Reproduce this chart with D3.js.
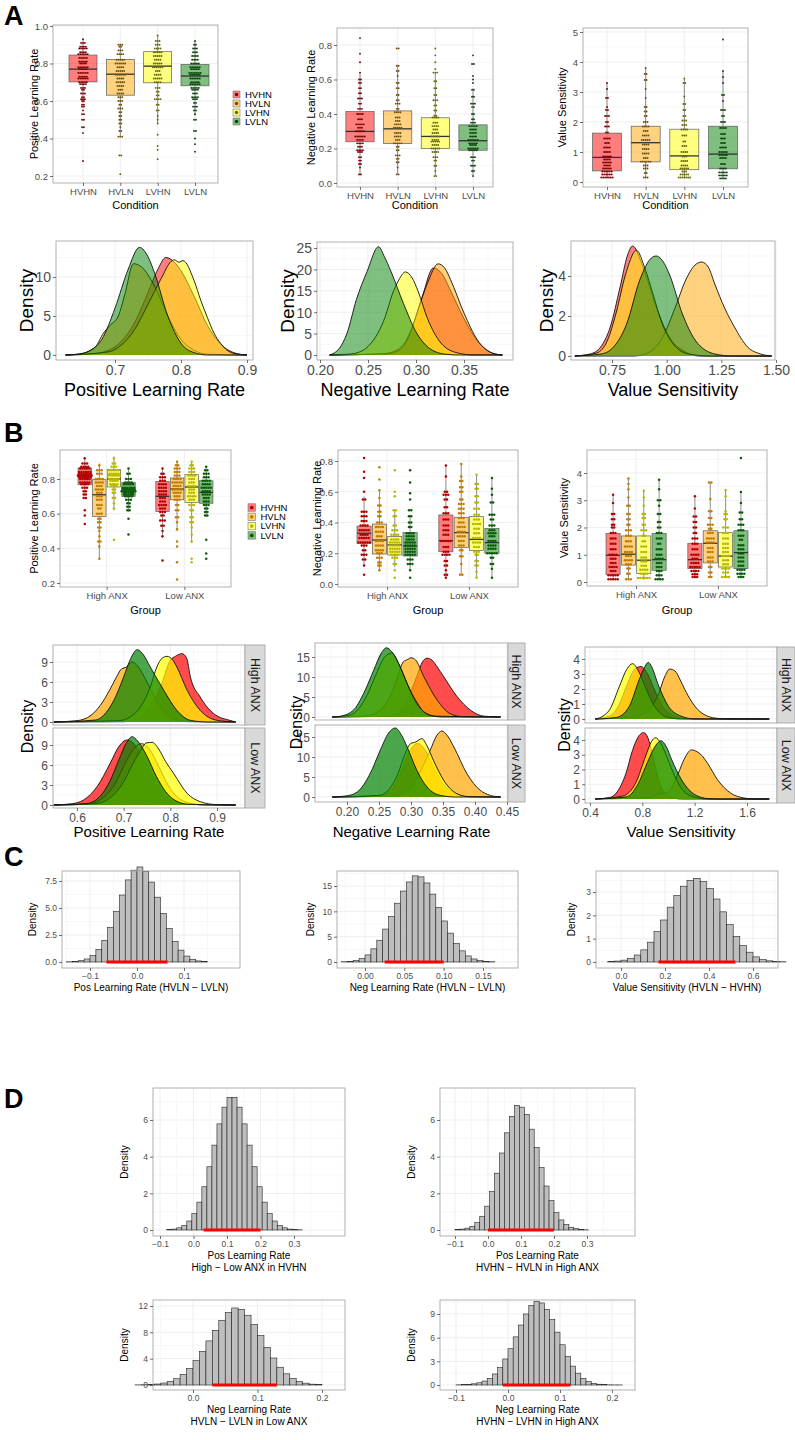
<!DOCTYPE html>
<html>
<head>
<meta charset="utf-8">
<script src="https://d3js.org/d3.v7.min.js"></script>
<style>
  body { margin: 0; background: #fff; }
</style>
</head>
<body>
<svg id="fig"></svg>
<script>
// ---------------- data ----------------
const conds = ["HVHN", "HVLN", "LVHN", "LVLN"];
const groups = ["High ANX", "Low ANX"];

// box stats: [low whisker, q1, median, q3, high whisker]
const posBoxA = [[0.59,0.702,0.77,0.845,0.93],[0.41,0.631,0.743,0.822,0.90],[0.48,0.697,0.786,0.863,0.95],[0.52,0.681,0.733,0.795,0.92]];
const negBoxA = [[0.05,0.239,0.299,0.414,0.64],[0.05,0.229,0.314,0.418,0.68],[0.04,0.20,0.27,0.378,0.64],[0.04,0.19,0.245,0.337,0.55]];
const valBoxA = [[0.15,0.37,0.82,1.63,3.3],[0.15,0.67,1.31,1.86,3.8],[0.15,0.41,0.87,1.76,3.45],[0.12,0.44,0.93,1.86,3.7]];

// dot rows: [value, count]
const posDotsA = [
  [[0.93,1],[0.91,3],[0.89,4],[0.88,5],[0.86,4],[0.85,6],[0.83,5],[0.81,5],[0.80,4],[0.78,6],[0.77,5],[0.75,6],[0.73,5],[0.72,6],[0.70,5],[0.69,4],[0.67,3],[0.66,2],[0.64,3],[0.62,2],[0.61,3],[0.60,2],[0.58,2],[0.57,2],[0.55,1],[0.53,2],[0.50,2],[0.46,2],[0.43,1],[0.28,1]],
  [[0.90,3],[0.89,2],[0.87,3],[0.85,4],[0.82,5],[0.80,6],[0.78,4],[0.76,5],[0.74,6],[0.72,4],[0.70,5],[0.68,4],[0.66,3],[0.64,4],[0.62,3],[0.60,3],[0.58,2],[0.56,3],[0.54,2],[0.52,2],[0.50,2],[0.48,2],[0.46,1],[0.44,2],[0.41,3],[0.31,2],[0.21,1]],
  [[0.95,1],[0.92,3],[0.90,3],[0.88,4],[0.86,5],[0.84,5],[0.82,4],[0.80,5],[0.78,6],[0.76,3],[0.74,4],[0.72,5],[0.70,4],[0.67,3],[0.65,2],[0.63,2],[0.61,4],[0.58,2],[0.55,2],[0.52,1],[0.50,1],[0.48,1],[0.42,1],[0.36,1],[0.34,1],[0.29,1]],
  [[0.92,1],[0.90,2],[0.88,3],[0.86,3],[0.84,4],[0.82,4],[0.80,5],[0.78,6],[0.77,5],[0.75,7],[0.74,6],[0.72,6],[0.70,5],[0.69,6],[0.67,5],[0.66,4],[0.64,3],[0.62,4],[0.61,3],[0.59,2],[0.57,3],[0.55,2],[0.53,1],[0.50,2],[0.44,2],[0.40,1],[0.37,1],[0.33,1]]
];
const negDotsA = [
  [[0.84,1],[0.75,1],[0.70,1],[0.64,1],[0.60,2],[0.58,2],[0.55,2],[0.52,2],[0.49,3],[0.46,2],[0.43,3],[0.40,4],[0.37,3],[0.34,5],[0.32,3],[0.30,5],[0.27,6],[0.25,4],[0.23,4],[0.21,3],[0.19,4],[0.18,3],[0.15,2],[0.13,2],[0.11,2],[0.09,1],[0.05,2]],
  [[0.78,2],[0.68,2],[0.65,2],[0.62,1],[0.58,2],[0.55,2],[0.51,2],[0.48,2],[0.46,3],[0.43,2],[0.41,4],[0.38,3],[0.36,3],[0.34,4],[0.32,5],[0.29,4],[0.27,4],[0.25,3],[0.23,5],[0.21,2],[0.19,2],[0.16,3],[0.14,2],[0.12,2],[0.09,1],[0.05,2]],
  [[0.78,1],[0.74,1],[0.70,1],[0.66,1],[0.64,3],[0.59,2],[0.55,2],[0.51,2],[0.48,3],[0.45,2],[0.42,2],[0.39,2],[0.38,4],[0.35,3],[0.33,4],[0.31,3],[0.29,4],[0.27,5],[0.25,4],[0.24,5],[0.22,4],[0.20,5],[0.18,4],[0.15,3],[0.13,2],[0.10,2],[0.07,1],[0.04,2]],
  [[0.74,1],[0.69,2],[0.62,1],[0.60,1],[0.58,1],[0.54,2],[0.50,2],[0.46,3],[0.44,2],[0.40,2],[0.37,2],[0.35,3],[0.33,5],[0.31,4],[0.29,4],[0.27,4],[0.25,6],[0.23,5],[0.22,4],[0.20,6],[0.19,5],[0.15,3],[0.13,2],[0.10,3],[0.07,2],[0.04,1]]
];
const valDotsA = [
  [[3.3,1],[3.1,1],[2.8,2],[2.5,1],[2.4,2],[2.2,3],[2.0,2],[1.85,3],[1.65,2],[1.45,4],[1.3,3],[1.15,4],[1.0,4],[0.85,5],[0.75,4],[0.65,5],[0.55,4],[0.45,5],[0.35,6],[0.25,6],[0.15,7]],
  [[3.8,1],[3.6,2],[3.4,2],[3.1,1],[2.8,1],[2.5,2],[2.35,2],[2.2,2],[2.0,3],[1.85,4],[1.7,3],[1.55,4],[1.4,5],[1.25,4],[1.1,4],[0.95,4],[0.8,3],[0.68,6],[0.55,3],[0.45,3],[0.3,2],[0.15,3]],
  [[3.45,1],[3.3,2],[2.85,1],[2.6,2],[2.4,2],[2.2,2],[2.05,3],[1.9,3],[1.75,4],[1.55,3],[1.35,2],[1.2,3],[1.0,4],[0.85,3],[0.7,4],[0.55,4],[0.45,5],[0.35,3],[0.25,5],[0.15,7]],
  [[4.75,1],[3.7,1],[3.5,1],[3.3,1],[2.9,2],[2.7,1],[2.4,3],[2.2,2],[2.0,3],[1.8,4],[1.6,3],[1.45,3],[1.3,3],[1.15,4],[1.0,5],[0.9,5],[0.8,4],[0.6,3],[0.45,4],[0.32,5],[0.22,5],[0.12,4]]
];

// panel B boxes: first four High ANX, last four Low ANX
const posBoxB = [[0.70,0.767,0.82,0.864,0.92],[0.34,0.584,0.709,0.796,0.89],[0.62,0.754,0.80,0.854,0.93],[0.61,0.70,0.742,0.78,0.86],
                 [0.46,0.613,0.70,0.786,0.86],[0.50,0.68,0.742,0.806,0.90],[0.43,0.665,0.754,0.825,0.90],[0.58,0.66,0.723,0.79,0.87]];
const negBoxB = [[0.11,0.265,0.33,0.377,0.57],[0.09,0.195,0.286,0.39,0.61],[0.11,0.189,0.254,0.308,0.48],[0.09,0.182,0.247,0.334,0.45],
                 [0.04,0.21,0.282,0.449,0.77],[0.06,0.236,0.334,0.434,0.78],[0.04,0.217,0.29,0.438,0.71],[0.04,0.20,0.269,0.362,0.69]];
const valBoxB = [[0.09,0.28,0.98,1.78,3.2],[0.09,0.62,1.02,1.69,3.8],[0.09,0.31,0.8,1.69,3.38],[0.09,0.43,0.82,1.78,3.75],
                 [0.18,0.49,0.82,1.42,3.14],[0.18,0.70,1.42,1.88,3.65],[0.15,0.55,0.95,1.81,3.38],[0.15,0.49,1.08,1.88,3.26]];
const posDotsB = [
  [[0.92,1],[0.89,3],[0.87,4],[0.86,5],[0.84,6],[0.83,6],[0.82,7],[0.81,6],[0.80,5],[0.78,5],[0.77,4],[0.75,3],[0.73,2],[0.71,2],[0.69,2],[0.62,1],[0.59,1],[0.54,1]],
  [[0.88,1],[0.85,3],[0.83,3],[0.80,4],[0.78,4],[0.76,3],[0.74,4],[0.72,3],[0.70,3],[0.68,3],[0.65,3],[0.63,2],[0.60,3],[0.57,2],[0.55,2],[0.52,2],[0.50,1],[0.47,1],[0.44,2],[0.41,1],[0.34,1]],
  [[0.92,1],[0.89,2],[0.87,3],[0.85,5],[0.83,5],[0.82,6],[0.80,5],[0.79,4],[0.77,4],[0.76,3],[0.74,2],[0.72,2],[0.69,2],[0.66,1],[0.63,1],[0.45,1]],
  [[0.86,1],[0.83,2],[0.80,3],[0.78,4],[0.77,5],[0.75,6],[0.74,6],[0.73,7],[0.72,5],[0.71,5],[0.70,4],[0.68,3],[0.66,2],[0.64,2],[0.62,2],[0.57,1],[0.48,1]],
  [[0.86,1],[0.83,2],[0.81,3],[0.79,3],[0.77,4],[0.75,4],[0.73,4],[0.71,4],[0.69,3],[0.67,3],[0.65,4],[0.63,3],[0.61,3],[0.59,2],[0.56,3],[0.53,2],[0.50,1],[0.47,1],[0.33,1]],
  [[0.90,1],[0.88,2],[0.86,3],[0.84,3],[0.82,3],[0.80,4],[0.78,5],[0.76,4],[0.74,5],[0.72,4],[0.70,3],[0.68,3],[0.65,2],[0.62,2],[0.58,2],[0.55,1],[0.51,1],[0.44,1],[0.41,1],[0.32,1],[0.22,1]],
  [[0.90,1],[0.88,2],[0.86,3],[0.84,3],[0.82,4],[0.80,3],[0.78,3],[0.76,4],[0.74,3],[0.72,3],[0.70,4],[0.68,3],[0.65,3],[0.62,2],[0.58,2],[0.55,2],[0.52,1],[0.48,1],[0.44,1],[0.34,1],[0.32,1]],
  [[0.87,1],[0.85,2],[0.83,3],[0.81,3],[0.79,4],[0.77,4],[0.75,5],[0.73,4],[0.71,4],[0.69,3],[0.67,3],[0.65,3],[0.63,2],[0.61,2],[0.59,2],[0.45,1],[0.37,1],[0.34,1]]
];
const negDotsB = [
  [[0.82,1],[0.73,1],[0.69,1],[0.60,1],[0.55,2],[0.47,3],[0.44,3],[0.41,3],[0.38,4],[0.35,5],[0.32,4],[0.30,5],[0.27,6],[0.25,3],[0.22,2],[0.19,3],[0.16,2],[0.12,1],[0.06,1]],
  [[0.76,1],[0.68,1],[0.61,1],[0.56,1],[0.51,2],[0.47,2],[0.44,2],[0.40,3],[0.37,4],[0.34,4],[0.31,3],[0.28,4],[0.25,4],[0.22,4],[0.20,3],[0.17,3],[0.14,2],[0.12,2],[0.09,1]],
  [[0.74,1],[0.60,1],[0.57,1],[0.48,2],[0.44,2],[0.38,2],[0.35,3],[0.32,4],[0.29,4],[0.27,5],[0.25,5],[0.23,5],[0.21,5],[0.19,4],[0.17,3],[0.13,2],[0.09,1],[0.04,1]],
  [[0.74,1],[0.66,1],[0.59,1],[0.55,1],[0.48,2],[0.44,2],[0.40,2],[0.37,2],[0.33,4],[0.31,4],[0.29,4],[0.27,5],[0.25,5],[0.23,5],[0.21,5],[0.19,5],[0.16,3],[0.13,3],[0.09,1],[0.04,1]],
  [[0.77,1],[0.70,1],[0.60,2],[0.58,3],[0.55,2],[0.50,2],[0.46,3],[0.42,3],[0.38,3],[0.35,3],[0.32,3],[0.28,5],[0.24,3],[0.21,3],[0.19,4],[0.15,2],[0.12,2],[0.09,1],[0.06,2],[0.04,1]],
  [[0.78,1],[0.70,1],[0.67,2],[0.63,2],[0.60,2],[0.55,2],[0.52,3],[0.49,3],[0.46,3],[0.43,3],[0.40,3],[0.37,4],[0.34,4],[0.31,4],[0.28,3],[0.25,3],[0.22,2],[0.18,2],[0.13,1],[0.06,2]],
  [[0.71,1],[0.65,2],[0.62,2],[0.57,2],[0.53,2],[0.49,3],[0.45,3],[0.42,3],[0.39,4],[0.36,3],[0.33,3],[0.30,4],[0.27,4],[0.24,3],[0.21,3],[0.19,2],[0.15,2],[0.12,2],[0.08,1],[0.04,1]],
  [[0.69,1],[0.62,1],[0.58,1],[0.53,2],[0.45,3],[0.42,2],[0.38,3],[0.35,3],[0.33,4],[0.31,3],[0.28,4],[0.25,4],[0.23,4],[0.20,5],[0.17,2],[0.13,2],[0.10,1],[0.04,1]]
];
const valDotsB = [
  [[3.2,1],[2.9,1],[2.5,2],[2.3,2],[2.1,2],[2.0,2],[1.8,3],[1.6,3],[1.4,3],[1.2,3],[1.0,4],[0.85,3],[0.7,3],[0.55,4],[0.4,3],[0.25,5],[0.1,5]],
  [[3.8,1],[3.6,1],[3.4,1],[3.1,1],[2.8,2],[2.5,2],[2.3,2],[2.1,2],[1.9,3],[1.7,3],[1.5,3],[1.3,4],[1.1,4],[0.95,3],[0.8,4],[0.65,3],[0.5,2],[0.3,2],[0.1,3]],
  [[3.35,1],[3.1,1],[2.8,1],[2.5,2],[2.35,2],[2.1,2],[1.9,3],[1.7,2],[1.5,2],[1.3,3],[1.1,3],[0.9,3],[0.75,3],[0.6,3],[0.45,4],[0.3,4],[0.15,6]],
  [[3.75,1],[3.4,1],[3.0,2],[2.8,1],[2.5,2],[2.2,2],[2.0,2],[1.8,3],[1.6,3],[1.4,2],[1.2,3],[1.0,3],[0.85,4],[0.7,3],[0.55,3],[0.4,3],[0.25,3],[0.1,4]],
  [[3.15,1],[2.7,1],[2.4,2],[2.2,2],[2.0,2],[1.8,2],[1.6,3],[1.4,3],[1.2,3],[1.0,4],[0.85,3],[0.7,4],[0.55,5],[0.4,4],[0.28,3],[0.18,3]],
  [[3.65,2],[3.05,1],[2.6,2],[2.35,2],[2.1,3],[1.95,2],[1.8,3],[1.6,4],[1.45,4],[1.25,3],[1.1,3],[0.9,3],[0.75,3],[0.55,2],[0.35,2],[0.18,2]],
  [[3.38,1],[3.15,1],[2.6,1],[2.5,2],[2.3,2],[2.0,3],[1.8,3],[1.6,3],[1.4,3],[1.25,3],[1.1,3],[0.95,4],[0.8,3],[0.65,3],[0.5,4],[0.35,3],[0.18,4]],
  [[4.55,1],[3.3,1],[2.9,1],[2.55,2],[2.3,2],[2.1,3],[1.9,3],[1.7,3],[1.55,2],[1.35,3],[1.2,3],[1.05,3],[0.9,3],[0.75,3],[0.6,3],[0.45,4],[0.3,4],[0.18,3]]
];

// posterior densities, [x, density] pairs, order HVHN, HVLN, LVHN, LVLN
const posDensA = [
  [[0.625,0],[0.66,0.1],[0.69,0.6],[0.71,1.8],[0.73,4.2],[0.75,8.0],[0.765,11.0],[0.777,12.5],[0.79,11.9],[0.80,10.8],[0.82,7.5],[0.84,3.8],[0.86,1.4],[0.88,0.3],[0.90,0]],
  [[0.625,0],[0.65,0.2],[0.67,1.0],[0.6825,2.8],[0.6925,3.8],[0.705,5.0],[0.715,7.8],[0.728,11.7],[0.74,11.3],[0.76,8.8],[0.78,5.0],[0.80,2.0],[0.82,0.6],[0.84,0.1],[0.90,0]],
  [[0.625,0],[0.69,0.4],[0.71,1.3],[0.73,3.3],[0.75,6.5],[0.77,9.8],[0.785,12.0],[0.79,12.2],[0.797,11.9],[0.803,12.1],[0.82,9.5],[0.83,7.0],[0.84,4.8],[0.85,2.8],[0.86,1.5],[0.87,0.6],[0.88,0.2],[0.90,0]],
  [[0.625,0],[0.645,0.1],[0.66,0.5],[0.68,2.0],[0.70,6.0],[0.72,11.0],[0.737,13.8],[0.75,12.6],[0.76,10.5],[0.78,5.0],[0.80,1.5],[0.82,0.3],[0.84,0],[0.90,0]]
];
const negDensA = [
  [[0.21,0],[0.26,0.2],[0.27,0.4],[0.285,2],[0.297,7],[0.307,14],[0.318,20.3],[0.327,19],[0.335,15.5],[0.35,8.5],[0.365,3],[0.38,0.4],[0.39,0]],
  [[0.21,0],[0.27,0.3],[0.28,0.8],[0.291,3.5],[0.301,9.8],[0.312,16.8],[0.323,21.3],[0.33,20.3],[0.336,17.6],[0.35,9.8],[0.364,3.5],[0.38,0.4],[0.39,0]],
  [[0.21,0],[0.23,0.2],[0.24,0.6],[0.25,2],[0.26,5],[0.268,9],[0.275,14],[0.282,17.5],[0.289,19.4],[0.296,18],[0.302,15],[0.312,8.5],[0.326,2.8],[0.343,0.5],[0.36,0],[0.39,0]],
  [[0.21,0],[0.215,0.5],[0.22,1.5],[0.228,5],[0.238,13],[0.249,19.5],[0.261,25.3],[0.267,23],[0.274,19.5],[0.287,12],[0.301,5],[0.315,1.4],[0.33,0.2],[0.345,0],[0.39,0]]
];
const valDensA = [
  [[0.58,0],[0.65,0.1],[0.698,0.45],[0.742,1.45],[0.787,3.45],[0.82,5.0],[0.844,5.5],[0.892,4.45],[0.952,2.45],[1.012,0.95],[1.087,0.2],[1.15,0],[1.48,0]],
  [[0.58,0],[0.85,0],[0.922,0.2],[0.982,0.95],[1.04,2.45],[1.087,3.8],[1.13,4.55],[1.16,4.7],[1.19,4.45],[1.22,3.6],[1.265,2.4],[1.31,1.45],[1.37,0.45],[1.43,0.1],[1.48,0]],
  [[0.58,0],[0.68,0.15],[0.73,0.8],[0.77,2.2],[0.81,4.0],[0.862,5.28],[0.90,4.4],[0.94,3.0],[0.98,1.6],[1.03,0.6],[1.10,0.1],[1.2,0],[1.48,0]],
  [[0.58,0],[0.70,0.1],[0.757,0.45],[0.817,1.6],[0.877,3.8],[0.93,4.9],[0.952,5.0],[0.975,4.85],[1.012,4.1],[1.072,2.1],[1.13,0.8],[1.22,0.1],[1.3,0],[1.48,0]]
];

// group densities: [High ANX curves, Low ANX curves]
const posDensB = [[
  [[0.55,0],[0.70,0.05],[0.721,0.25],[0.75,1.75],[0.779,5.25],[0.80,9.25],[0.812,9.9],[0.825,10.25],[0.835,9.6],[0.843,6.75],[0.864,3.75],[0.893,1.25],[0.93,0.2],[0.94,0]],
  [[0.55,0],[0.60,0.2],[0.63,1.0],[0.65,2.5],[0.67,4.8],[0.685,6.8],[0.696,8.0],[0.705,8.2],[0.718,9.0],[0.73,8.4],[0.75,6.0],[0.77,3.3],[0.79,1.3],[0.81,0.4],[0.84,0.05],[0.94,0]],
  [[0.55,0],[0.69,0.2],[0.714,0.75],[0.736,2.25],[0.757,5.25],[0.771,8.25],[0.783,9.6],[0.793,9.85],[0.805,9.3],[0.814,8.25],[0.836,4.75],[0.864,1.75],[0.9,0.25],[0.94,0]],
  [[0.55,0],[0.64,0.3],[0.657,1.0],[0.679,3.25],[0.70,6.75],[0.715,9.5],[0.729,10.85],[0.74,10.3],[0.757,8.25],[0.786,4.75],[0.814,1.75],[0.843,0.25],[0.88,0],[0.94,0]]
],[
  [[0.55,0],[0.59,0.2],[0.614,0.75],[0.643,2.75],[0.671,6.25],[0.69,8.8],[0.707,9.75],[0.72,9.3],[0.74,7.3],[0.76,4.5],[0.78,2.2],[0.80,0.8],[0.83,0.15],[0.94,0]],
  [[0.55,0],[0.62,0.1],[0.65,0.8],[0.68,3.0],[0.70,5.8],[0.72,8.3],[0.738,9.2],[0.755,8.4],[0.775,5.8],[0.795,3.0],[0.815,1.2],[0.84,0.3],[0.87,0],[0.94,0]],
  [[0.55,0],[0.64,0.2],[0.67,1.0],[0.70,3.5],[0.72,6.2],[0.74,8.6],[0.748,9.3],[0.761,9.4],[0.775,8.4],[0.79,6.5],[0.807,4.75],[0.836,1.75],[0.864,0.5],[0.90,0.05],[0.94,0]],
  [[0.55,0],[0.62,0.2],[0.645,1.0],[0.67,3.5],[0.69,6.8],[0.705,9.2],[0.718,10.25],[0.73,9.6],[0.75,7.3],[0.77,4.3],[0.79,2.0],[0.81,0.7],[0.84,0.1],[0.94,0]]
]];
const negDensB = [[
  [[0.177,0],[0.26,0.2],[0.278,0.84],[0.294,4.2],[0.309,10.1],[0.318,13.8],[0.325,14.7],[0.333,14.2],[0.341,12.5],[0.351,10.1],[0.372,5.1],[0.393,1.7],[0.414,0.2],[0.44,0]],
  [[0.177,0],[0.23,0.3],[0.25,1.5],[0.265,4.5],[0.278,9.5],[0.288,13.8],[0.295,14.4],[0.30,14.8],[0.307,14.3],[0.32,10.1],[0.341,4.2],[0.361,0.84],[0.38,0.1],[0.44,0]],
  [[0.177,0],[0.20,0.3],[0.215,1.5],[0.23,5.0],[0.245,10.5],[0.258,14.8],[0.27,16.0],[0.283,12.5],[0.299,6.5],[0.31,3.5],[0.32,1.3],[0.34,0.2],[0.44,0]],
  [[0.177,0],[0.19,0.2],[0.21,1.7],[0.226,5.9],[0.242,11.8],[0.253,15.8],[0.2615,17.3],[0.27,16.3],[0.278,14.3],[0.294,8.4],[0.309,3.4],[0.33,0.4],[0.35,0],[0.44,0]]
],[
  [[0.177,0],[0.25,0.3],[0.27,2.0],[0.285,6.5],[0.298,11.5],[0.31,13.4],[0.322,11.8],[0.335,7.5],[0.35,3.3],[0.37,0.8],[0.39,0.1],[0.44,0]],
  [[0.177,0],[0.27,0.2],[0.29,1.2],[0.305,3.5],[0.315,6.5],[0.33,11.7],[0.34,15.3],[0.348,16.5],[0.357,15.3],[0.367,12.5],[0.3875,5.8],[0.408,1.7],[0.424,0.4],[0.44,0]],
  [[0.177,0],[0.25,0.4],[0.265,1.8],[0.28,6],[0.29,10.5],[0.299,13.3],[0.308,13.8],[0.317,14.6],[0.325,12.8],[0.335,9.2],[0.351,4.2],[0.372,0.8],[0.39,0.1],[0.44,0]],
  [[0.177,0],[0.20,0.3],[0.216,1.25],[0.236,5.8],[0.252,11.7],[0.265,16],[0.2755,17.25],[0.285,15.5],[0.294,12.5],[0.309,6.7],[0.325,2.5],[0.346,0.4],[0.37,0],[0.44,0]]
]];
const valDensB = [[
  [[0.44,0],[0.55,0.2],[0.62,0.9],[0.68,2.2],[0.74,3.3],[0.79,3.5],[0.84,3.0],[0.90,1.8],[0.96,0.8],[1.03,0.25],[1.12,0.03],[1.77,0]],
  [[0.44,0],[0.75,0.15],[0.85,0.62],[0.925,1.7],[0.97,2.8],[1.01,3.33],[1.05,3.2],[1.09,2.6],[1.125,1.96],[1.225,0.62],[1.35,0.07],[1.45,0],[1.77,0]],
  [[0.44,0],[0.50,0.2],[0.55,0.62],[0.625,2.18],[0.68,3.3],[0.725,3.69],[0.77,3.2],[0.82,2.2],[0.87,1.2],[0.93,0.45],[1.0,0.1],[1.1,0],[1.77,0]],
  [[0.44,0],[0.60,0.1],[0.70,0.84],[0.775,2.6],[0.82,3.5],[0.845,3.78],[0.87,3.5],[0.925,2.2],[1.0,0.84],[1.1,0.18],[1.2,0],[1.77,0]]
],[
  [[0.44,0],[0.55,0.1],[0.6,0.4],[0.675,1.75],[0.725,3.3],[0.775,4.3],[0.81,4.5],[0.845,4.1],[0.875,3.1],[0.925,1.3],[1.0,0.18],[1.1,0],[1.77,0]],
  [[0.44,0],[0.85,0.1],[0.93,0.3],[1.0,0.5],[1.075,1.75],[1.12,2.7],[1.175,3.33],[1.22,3.2],[1.26,2.9],[1.3,2.4],[1.375,1.3],[1.475,0.4],[1.575,0.07],[1.65,0],[1.77,0]],
  [[0.44,0],[0.65,0.2],[0.75,1.1],[0.825,2.9],[0.87,3.9],[0.9,4.15],[0.94,3.8],[0.99,2.8],[1.05,1.5],[1.12,0.5],[1.22,0.08],[1.3,0],[1.77,0]],
  [[0.44,0],[0.68,0.15],[0.76,0.9],[0.84,2.5],[0.90,3.6],[0.9425,3.95],[0.98,3.6],[1.025,2.65],[1.1,1.3],[1.2,0.3],[1.3,0.03],[1.4,0],[1.77,0]]
]];

// difference histograms: first bin edge, bin width, heights, 95% HDI
const hPosC = [-0.15, 0.0125, [0.02,0.05,0.12,0.28,0.6,1.15,2.0,3.2,4.7,6.2,7.6,8.5,8.8,8.4,7.4,6.0,4.5,3.1,1.9,1.1,0.55,0.25,0.1,0.04], [-0.065,0.065]];
const hNegC = [-0.03, 0.0075, [0.05,0.12,0.3,0.7,1.4,2.6,4.3,6.5,9.0,11.6,14.0,15.8,17.0,16.8,15.6,13.4,10.8,8.1,5.7,3.7,2.2,1.2,0.6,0.28,0.12,0.05], [0.025,0.10]];
const hValC = [-0.06, 0.03, [0.02,0.04,0.08,0.16,0.3,0.52,0.85,1.3,1.8,2.35,2.85,3.25,3.5,3.58,3.45,3.15,2.7,2.15,1.6,1.1,0.7,0.42,0.22,0.1,0.05,0.02,0.01], [0.17,0.52]];
const hD1 = [-0.08, 0.015, [0.02,0.05,0.12,0.25,0.49,0.89,1.52,2.36,3.45,4.63,5.79,6.7,7.23,7.23,6.7,5.79,4.63,3.45,2.36,1.52,0.89,0.49,0.25,0.12,0.05,0.02,0.01], [0.03,0.20]];
const hD2 = [-0.1, 0.015, [0.02,0.05,0.1,0.2,0.4,0.75,1.3,2.1,3.1,4.2,5.3,6.2,6.8,6.7,6.3,5.5,4.5,3.4,2.4,1.6,0.95,0.55,0.3,0.15,0.07,0.03,0.01], [0.0,0.20]];
const hD3 = [-0.09, 0.01, [0.02,0.04,0.08,0.15,0.3,0.55,0.95,1.6,2.5,3.7,5.1,6.7,8.3,9.8,11.0,11.7,11.5,10.6,9.2,7.5,5.7,4.1,2.7,1.7,1.0,0.55,0.28,0.13,0.05], [0.03,0.13]];
const hD4 = [-0.1, 0.01, [0.02,0.04,0.08,0.15,0.28,0.5,0.85,1.4,2.2,3.3,4.6,6.1,7.6,9.0,10.1,10.6,10.4,9.6,8.3,6.7,5.1,3.6,2.4,1.5,0.85,0.45,0.22,0.1,0.04,0.02,0.01,0.01], [-0.01,0.12]];

// ---------------- drawing ----------------
const FONT = "'Liberation Sans', Arial, Helvetica, sans-serif";
const BORDER = "#a8a8a8", GRID = "#e8e8e8", MINOR = "#f3f3f3";
const boxFill = ["rgba(255,0,0,0.5)", "rgba(255,165,0,0.5)", "rgba(255,255,0,0.5)", "rgba(0,128,0,0.5)"];
const densFillB = ["rgba(255,0,0,0.7)", "rgba(255,165,0,0.7)", "rgba(255,255,0,0.7)", "rgba(0,128,0,0.7)"];
const dotColA = ["#7a0000", "#6e5010", "#68680c", "#0b400b"];
const dotColB = ["#b40000", "#c27c00", "#b8b800", "#0a5a0a"];

const svg = d3.select("#fig").attr("width", 795).attr("height", 1440);
svg.append("rect").attr("width", 795).attr("height", 1440).attr("fill", "#fff");

function txt(g, x, y, s, size, o = {}) {
  const t = g.append("text").attr("x", x).attr("y", y).text(s)
    .attr("font-family", FONT).attr("font-size", size)
    .attr("fill", o.fill || "#000").attr("text-anchor", o.anchor || "middle");
  if (o.weight) t.attr("font-weight", o.weight);
  if (o.rot) t.attr("transform", `rotate(${o.rot},${x},${y})`);
  return t;
}

function minorVals(maj, lo, hi) {
  const s = maj[1] - maj[0], out = [];
  for (let k = -40; k < 60; k++) {
    const v = maj[0] + (k + 0.5) * s;
    if (v > lo && v < hi) out.push(v);
  }
  return out;
}

// background + grid of a panel; b = bounds {l,t,r,b}
function panelBase(b, x, y, o) {
  const g = svg.append("g");
  g.append("rect").attr("x", b.l).attr("y", b.t).attr("width", b.r - b.l).attr("height", b.b - b.t).attr("fill", "#fff");
  const hl = (py, c) => g.append("line").attr("x1", b.l).attr("x2", b.r).attr("y1", py).attr("y2", py).attr("stroke", c).attr("stroke-width", 0.7);
  const vl = (px, c) => g.append("line").attr("y1", b.t).attr("y2", b.b).attr("x1", px).attr("x2", px).attr("stroke", c).attr("stroke-width", 0.7);
  const ylo = Math.min(y.invert(b.b), y.invert(b.t)), yhi = Math.max(y.invert(b.b), y.invert(b.t));
  minorVals(o.yTicks, ylo, yhi).forEach(v => hl(y(v), MINOR));
  o.yTicks.forEach(v => hl(y(v), GRID));
  if (x.invert) {
    minorVals(o.xTicks, x.invert(b.l), x.invert(b.r)).forEach(v => vl(x(v), MINOR));
  }
  o.xTicks.forEach(v => vl(x(v), GRID));
  return g;
}

function styleAxis(a, fs) {
  a.select(".domain").remove();
  a.selectAll(".tick line").attr("stroke", "#333").attr("stroke-width", 0.7);
  a.selectAll(".tick text").attr("fill", "#4d4d4d").attr("font-size", fs).attr("font-family", FONT);
}

function panelTop(g, b, x, y, o) {
  g.append("rect").attr("x", b.l).attr("y", b.t).attr("width", b.r - b.l).attr("height", b.b - b.t)
    .attr("fill", "none").attr("stroke", BORDER).attr("stroke-width", 0.9);
  if (o.showX !== false) {
    const ax = g.append("g").attr("transform", `translate(0,${b.b})`)
      .call(d3.axisBottom(x).tickValues(o.xTicks).tickFormat(o.xFmt || (d => d)).tickSize(3).tickPadding(o.xPad || 2));
    styleAxis(ax, o.fs);
  }
  const ay = g.append("g").attr("transform", `translate(${b.l},0)`)
    .call(d3.axisLeft(y).tickValues(o.yTicks).tickFormat(o.yFmt).tickSize(3).tickPadding(2));
  styleAxis(ay, o.yfs || o.fs);
  ay.selectAll(".tick text").attr("dy", "0.35em");
}

function drawBox(g, cx, w, s, y, fill) {
  const st = "#5c5c5c";
  g.append("line").attr("x1", cx).attr("x2", cx).attr("y1", y(s[0])).attr("y2", y(s[1])).attr("stroke", st).attr("stroke-width", 0.7);
  g.append("line").attr("x1", cx).attr("x2", cx).attr("y1", y(s[3])).attr("y2", y(s[4])).attr("stroke", st).attr("stroke-width", 0.7);
  g.append("rect").attr("x", cx - w / 2).attr("y", y(s[3])).attr("width", w).attr("height", y(s[1]) - y(s[3]))
    .attr("fill", fill).attr("stroke", st).attr("stroke-width", 0.7);
  g.append("line").attr("x1", cx - w / 2).attr("x2", cx + w / 2).attr("y1", y(s[2])).attr("y2", y(s[2]))
    .attr("stroke", "#333").attr("stroke-width", 1.3);
}

function drawDots(g, cx, rows, y, col, r, gap) {
  rows.forEach(([v, n]) => {
    for (let i = 0; i < n; i++) {
      g.append("circle").attr("cx", cx + (i - (n - 1) / 2) * gap).attr("cy", y(v)).attr("r", r).attr("fill", col);
    }
  });
}

function legend(x0, y0, dy, sz, fs, dotCols) {
  const g = svg.append("g");
  conds.forEach((c, i) => {
    const yy = y0 + i * dy;
    g.append("rect").attr("x", x0).attr("y", yy - sz / 2).attr("width", sz).attr("height", sz)
      .attr("fill", boxFill[i]).attr("stroke", "#777").attr("stroke-width", 0.6);
    g.append("circle").attr("cx", x0 + sz / 2).attr("cy", yy).attr("r", sz * 0.25).attr("fill", dotCols[i]);
    txt(g, x0 + sz + 5, yy + fs * 0.35, c, fs, { anchor: "start" });
  });
}

// ---------- panel A: boxplots by condition ----------
function condBoxes(b, cx0, cx1, yDom, yPx, yTicks, yFmt, boxes, dots, yTitle, titleX) {
  const x = d3.scalePoint().domain(conds).range([cx0, cx1]);
  const y = d3.scaleLinear().domain(yDom).range(yPx);
  const o = { xTicks: conds, yTicks, yFmt, fs: 9.5 };
  const g = panelBase(b, x, y, o);
  const w = x.step() * 0.75;
  conds.forEach((c, i) => drawBox(g, x(c), w, boxes[i], y, boxFill[i]));
  conds.forEach((c, i) => drawDots(g, x(c), dots[i], y, dotColA[i], 0.95, 1.9));
  panelTop(g, b, x, y, o);
  txt(g, titleX, (b.t + b.b) / 2, yTitle, 11, { rot: -90 });
  txt(g, (b.l + b.r) / 2, 209, "Condition", 11);
}
condBoxes({ l: 53, t: 25, r: 218, b: 183 }, 83, 195, [0.2, 1.0], [176, 26], [0.2, 0.4, 0.6, 0.8, 1.0], d3.format(".1f"), posBoxA, posDotsA, "Positive Learning Rate", 38);
condBoxes({ l: 337, t: 28, r: 493, b: 187 }, 360, 473, [0, 0.8], [183, 45], [0, 0.2, 0.4, 0.6, 0.8], d3.format(".1f"), negBoxA, negDotsA, "Negative Learning Rate", 315);
condBoxes({ l: 583, t: 28, r: 748, b: 187 }, 607, 723, [0, 5], [182, 32], [0, 1, 2, 3, 4, 5], d3.format("d"), valBoxA, valDotsA, "Value Sensitivity", 566);
legend(233, 94.5, 9, 7, 9.5, dotColA);

// ---------- density helpers ----------
function drawCurves(g, x, y, curves, fills) {
  const area = d3.area().x(d => x(d[0])).y0(y(0)).y1(d => y(d[1])).curve(d3.curveMonotoneX);
  const line = d3.line().x(d => x(d[0])).y(d => y(d[1])).curve(d3.curveMonotoneX);
  curves.forEach((c, i) => {
    g.append("path").datum(c).attr("d", area).attr("fill", fills[i]);
    g.append("path").datum(c).attr("d", line).attr("fill", "none").attr("stroke", "#111").attr("stroke-width", 0.9);
  });
}

function densPanel(b, xDom, xPx, xTicks, xFmt, yDom, yPx, yTicks, curves, xTitle, dx) {
  const x = d3.scaleLinear().domain(xDom).range(xPx);
  const y = d3.scaleLinear().domain(yDom).range(yPx);
  const o = { xTicks, yTicks, xFmt, yFmt: d3.format("d"), fs: 14, xPad: 2 };
  const g = panelBase(b, x, y, o);
  drawCurves(g, x, y, curves, boxFill);
  panelTop(g, b, x, y, o);
  txt(g, dx, (b.t + b.b) / 2, "Density", 19, { rot: -90 });
  txt(g, (b.l + b.r) / 2, 396, xTitle, 18);
}
densPanel({ l: 56, t: 241, r: 253, b: 360 }, [0.7, 0.9], [115, 247], [0.7, 0.8, 0.9], d3.format(".1f"), [0, 10], [355, 277], [0, 5, 10], posDensA, "Positive Learning Rate", 33);
densPanel({ l: 317, t: 242, r: 513, b: 360 }, [0.2, 0.35], [320, 464], [0.2, 0.25, 0.3, 0.35], d3.format(".2f"), [0, 25], [355, 248], [0, 5, 10, 15, 20, 25], negDensA, "Negative Learning Rate", 294);
densPanel({ l: 571, t: 241, r: 775, b: 360 }, [0.75, 1.5], [612, 776], [0.75, 1.0, 1.25, 1.5], d3.format(".2f"), [0, 4], [356, 276], [0, 2, 4], valDensA, "Value Sensitivity", 553);

// panel letters
txt(svg, 4, 25, "A", 27, { anchor: "start", weight: "bold" });
txt(svg, 4, 442, "B", 27, { anchor: "start", weight: "bold" });
txt(svg, 4, 866, "C", 27, { anchor: "start", weight: "bold" });
txt(svg, 4, 1108, "D", 27, { anchor: "start", weight: "bold" });

// ---------- panel B: boxplots by group ----------
function groupBoxes(b, yDom, yPx, yTicks, boxes, dots, yTitle, titleX) {
  const x = d3.scalePoint().domain(groups).range([b.l, b.r]).padding(0.6);
  const y = d3.scaleLinear().domain(yDom).range(yPx);
  const o = { xTicks: groups, yTicks, yFmt: yTicks[1] < 1 ? d3.format(".1f") : d3.format("d"), fs: 9.5 };
  const g = panelBase(b, x, y, o);
  const dodge = x.step() * 0.75 / 4;
  const w = dodge * 0.92;
  groups.forEach((grp, gi) => conds.forEach((c, i) => {
    drawBox(g, x(grp) + (i - 1.5) * dodge, w, boxes[gi * 4 + i], y, boxFill[i]);
  }));
  groups.forEach((grp, gi) => conds.forEach((c, i) => {
    drawDots(g, x(grp) + (i - 1.5) * dodge, dots[gi * 4 + i], y, dotColB[i], 1.25, 2.3);
  }));
  panelTop(g, b, x, y, o);
  txt(g, titleX, (b.t + b.b) / 2, yTitle, 11, { rot: -90 });
  txt(g, (b.l + b.r) / 2, 614, "Group", 11);
}
groupBoxes({ l: 60, t: 450, r: 231, b: 587 }, [0.2, 0.8], [583, 479], [0.2, 0.4, 0.6, 0.8], posBoxB, posDotsB, "Positive Learning Rate", 38);
groupBoxes({ l: 338, t: 450, r: 518, b: 587 }, [0, 0.8], [584, 461], [0, 0.2, 0.4, 0.6, 0.8], negBoxB, negDotsB, "Negative Learning Rate", 321);
groupBoxes({ l: 587, t: 450, r: 767, b: 586 }, [0, 4], [582, 473], [0, 1, 2, 3, 4], valBoxB, valDotsB, "Value Sensitivity", 568);
legend(248, 507.5, 9.3, 7.5, 9.5, dotColB);

// ---------- panel B: faceted densities ----------
function facetDens(l, r, sr, facets, xDom, xPx, xTicks, xFmt, yDoms, yTicks, curves, xTitle, dx) {
  const x = d3.scaleLinear().domain(xDom).range(xPx);
  facets.forEach((f, fi) => {
    const b = { l, r, t: f[0], b: f[1] };
    const y = d3.scaleLinear().domain(yDoms).range([f[2], f[3]]);
    const o = { xTicks, yTicks, xFmt, yFmt: d3.format("d"), fs: 12, showX: fi === 1 };
    const g = panelBase(b, x, y, o);
    drawCurves(g, x, y, curves[fi], densFillB);
    panelTop(g, b, x, y, o);
    g.append("rect").attr("x", r).attr("y", b.t).attr("width", sr - r).attr("height", b.b - b.t)
      .attr("fill", "#d9d9d9").attr("stroke", BORDER).attr("stroke-width", 0.9);
    txt(g, (r + sr) / 2 - 4.3, (b.t + b.b) / 2, groups[fi], 12.5, { rot: 90, fill: "#1a1a1a" });
  });
  txt(svg, dx, (facets[0][0] + facets[1][1]) / 2, "Density", 16, { rot: -90 });
  txt(svg, (l + r) / 2, 837, xTitle, 15);
}
facetDens(53, 245, 265, [[645, 725, 722, 662], [728, 808, 805, 745]], [0.6, 0.9], [77, 217], [0.6, 0.7, 0.8, 0.9], d3.format(".1f"),
  [0, 9], [0, 3, 6, 9], posDensB, "Positive Learning Rate", 33);
facetDens(315, 508, 525, [[643, 720, 717, 657], [725, 802, 797, 737]], [0.2, 0.45], [347, 507], [0.2, 0.25, 0.3, 0.35, 0.4, 0.45], d3.format(".2f"),
  [0, 15], [0, 5, 10, 15], negDensB, "Negative Learning Rate", 302);
facetDens(585, 777, 795, [[647, 723, 719, 659], [728, 803, 799, 740]], [0.4, 1.6], [590, 747], [0.4, 0.8, 1.2, 1.6], d3.format(".1f"),
  [0, 4], [0, 1, 2, 3, 4], valDensB, "Value Sensitivity", 570);

// ---------- panels C and D: histograms of differences ----------
function histPanel(b, xDom, xPx, xTicks, xFmt, yDom, yPx, yTicks, yFmt, h, titles, dx, gap) {
  const x = d3.scaleLinear().domain(xDom).range(xPx);
  const y = d3.scaleLinear().domain(yDom).range(yPx);
  const o = { xTicks, yTicks, xFmt, yFmt, fs: 8.5 };
  const g = panelBase(b, x, y, o);
  const [x0, bw, hs, hdi] = h;
  g.selectAll(null).data(hs).join("rect")
    .attr("x", (d, i) => x(x0 + i * bw)).attr("width", x(x0 + bw) - x(x0))
    .attr("y", d => y(d)).attr("height", d => y(0) - y(d))
    .attr("fill", "#bebebe").attr("stroke", "#222").attr("stroke-width", 0.6);
  g.append("line").attr("x1", x(hdi[0])).attr("x2", x(hdi[1])).attr("y1", y(0)).attr("y2", y(0))
    .attr("stroke", "#f00").attr("stroke-width", 3);
  panelTop(g, b, x, y, o);
  txt(g, dx, (b.t + b.b) / 2, "Density", 10, { rot: -90 });
  titles.forEach((t, i) => txt(g, (b.l + b.r) / 2, b.b + gap + i * 12.5, t, 10));
}
histPanel({ l: 62, t: 871, r: 240, b: 968 }, [-0.1, 0.1], [90, 184], [-0.1, 0, 0.1], d3.format(".1f"), [0, 7.5], [962, 881], [0, 2.5, 5, 7.5], d3.format(".1f"), hPosC, ["Pos Learning Rate (HVLN \u2212 LVLN)"], 36, 23);
histPanel({ l: 337, t: 871, r: 518, b: 968 }, [0, 0.15], [365, 483], [0, 0.05, 0.1, 0.15], d3.format(".2f"), [0, 15], [962, 886], [0, 5, 10, 15], d3.format("d"), hNegC, ["Neg Learning Rate (HVLN \u2212 LVLN)"], 314, 23);
histPanel({ l: 596, t: 871, r: 778, b: 968 }, [0, 0.6], [621, 753], [0, 0.2, 0.4, 0.6], d3.format(".1f"), [0, 3], [962, 892], [0, 1, 2, 3], d3.format("d"), hValC, ["Value Sensitivity (HVLN \u2212 HVHN)"], 575, 23);

histPanel({ l: 153, t: 1088, r: 345, b: 1236 }, [-0.1, 0.3], [160, 294], [-0.1, 0, 0.1, 0.2, 0.3], d3.format(".1f"), [0, 6], [1230, 1120], [0, 2, 4, 6], d3.format("d"), hD1, ["Pos Learning Rate", "High \u2212 Low ANX in HVHN"], 128, 22.5);
histPanel({ l: 440, t: 1088, r: 635, b: 1236 }, [-0.1, 0.3], [455, 587], [-0.1, 0, 0.1, 0.2, 0.3], d3.format(".1f"), [0, 6], [1230, 1120], [0, 2, 4, 6], d3.format("d"), hD2, ["Pos Learning Rate", "HVHN \u2212 HVLN in High ANX"], 415, 22.5);
histPanel({ l: 153, t: 1300, r: 345, b: 1390 }, [0, 0.2], [193, 322], [0, 0.1, 0.2], d3.format(".1f"), [0, 12], [1385, 1306], [0, 4, 8, 12], d3.format("d"), hD3, ["Neg Learning Rate", "HVLN \u2212 LVLN in Low ANX"], 128, 22.5);
histPanel({ l: 440, t: 1300, r: 635, b: 1390 }, [-0.1, 0.2], [456, 612], [-0.1, 0, 0.1, 0.2], d3.format(".1f"), [0, 9], [1385, 1314], [0, 3, 6, 9], d3.format("d"), hD4, ["Neg Learning Rate", "HVHN \u2212 LVHN in High ANX"], 415, 22.5);
</script>
</body>
</html>
